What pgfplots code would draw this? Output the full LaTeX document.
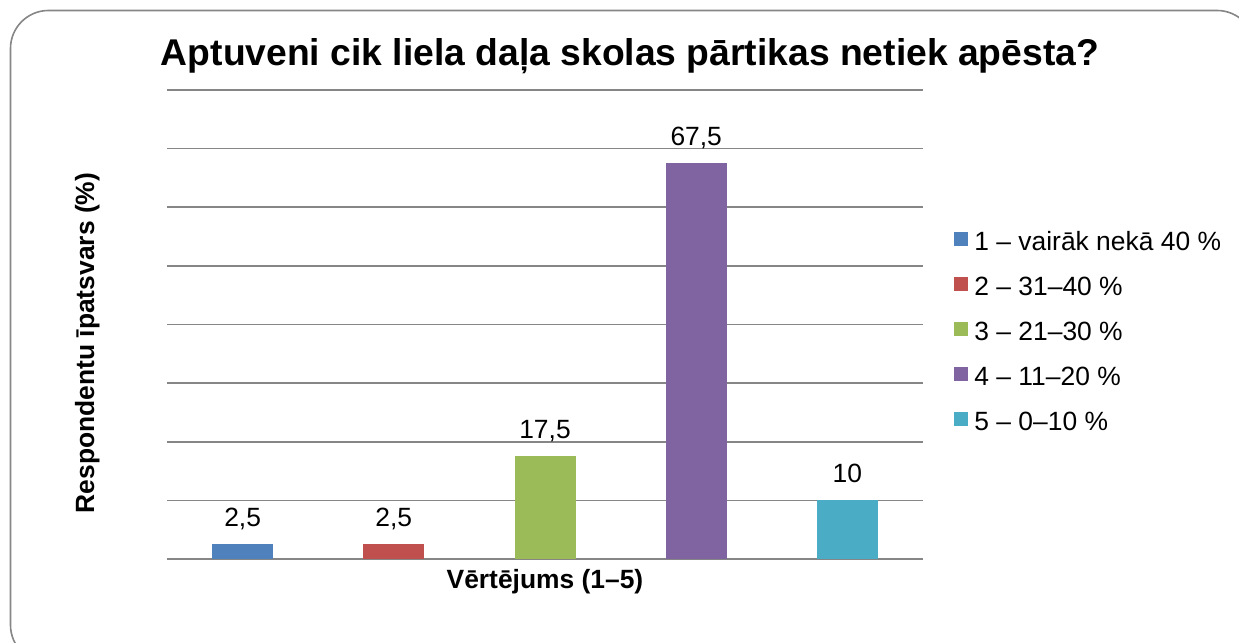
\documentclass[border=0pt]{standalone}
\usepackage{pgfplots}
\pgfplotsset{compat=1.18}
\usepackage{fontspec}
\setmainfont{Liberation Sans}
\definecolor{c1}{HTML}{4F81BD}
\definecolor{c2}{HTML}{C0504D}
\definecolor{c3}{HTML}{9BBB59}
\definecolor{c4}{HTML}{8064A2}
\definecolor{c5}{HTML}{4BACC6}
\definecolor{gridgray}{HTML}{868686}
\begin{document}
\begin{tikzpicture}[x=1bp,y=1bp]
\useasboundingbox (0,0) rectangle (1239,643);
\begin{scope}
\clip (0,0) rectangle (1239,643);
\draw[gridgray, line width=1.6bp, rounded corners=38bp] (10.5,-20) rectangle (1255,632.5);
\end{scope}
\node[anchor=base, font=\fontsize{37.4}{40}\selectfont\bfseries] at (630,577) {Aptuveni cik liela daļa skolas pārtikas netiek apēsta?};
\node[anchor=base, rotate=90, font=\fontsize{26.5}{30}\selectfont\bfseries] at (94,300) {Respondentu īpatsvars (\%)};
\node[anchor=base, font=\fontsize{26.5}{30}\selectfont\bfseries] at (545,54) {Vērtējums (1–5)};
\begin{axis}[
  at={(167bp,84bp)}, anchor=south west,
  width=756bp, height=469bp, scale only axis,
  xmin=-0.5, xmax=4.5, ymin=0, ymax=80,
  xtick=\empty, ytick={0,10,...,80}, yticklabels={},
  major tick length=0pt,
  ymajorgrids, grid style={gridgray, line width=1.6bp},
  axis line style={draw=none},
  ybar, bar width=61bp, bar shift=0pt,
  point meta=explicit symbolic,
  nodes near coords,
  nodes near coords style={anchor=base, yshift=18bp, font=\fontsize{26.5}{30}\selectfont, text=black},
  legend style={at={(axis description cs:1.0374,0.479)}, anchor=west, draw=none, fill=none,
    font=\fontsize{26.5}{30}\selectfont, row sep=20bp,
    nodes={inner sep=0pt, text height=19bp, text depth=6bp},
    /tikz/column 1/.style={column sep=6bp}},
  legend cell align=left,
  legend image code/.code={\fill[#1] (0bp,-2bp) rectangle (14bp,12bp);},
]
\addplot[fill=c1, draw=none] coordinates {(0,2.5) [2,5]};
\addlegendentry{1 – vairāk nekā 40 \%}
\addplot[fill=c2, draw=none] coordinates {(1,2.5) [2,5]};
\addlegendentry{2 – 31–40 \%}
\addplot[fill=c3, draw=none] coordinates {(2,17.5) [17,5]};
\addlegendentry{3 – 21–30 \%}
\addplot[fill=c4, draw=none] coordinates {(3,67.5) [67,5]};
\addlegendentry{4 – 11–20 \%}
\addplot[fill=c5, draw=none] coordinates {(4,10) [10]};
\addlegendentry{5 – 0–10 \%}
\end{axis}
\end{tikzpicture}
\end{document}
